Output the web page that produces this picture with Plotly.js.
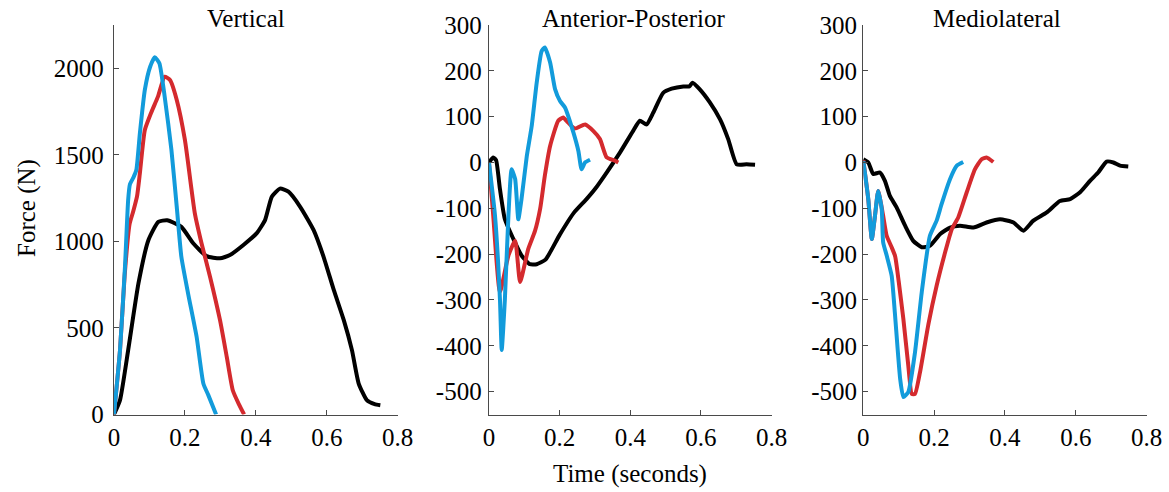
<!DOCTYPE html>
<html>
<head>
<meta charset="utf-8">
<script src="https://cdn.plot.ly/plotly-3.0.1.min.js"></script>
<style>html,body{margin:0;padding:0;background:#fff}#chart{width:1169px;height:492px}</style>
</head>
<body>
<div id="chart"></div>
<script>
// ---------- DATA ----------
var panelTitles = ["Vertical", "Anterior-Posterior", "Mediolateral"];
var xTickVals = [0, 0.2, 0.4, 0.6, 0.8];
var xTickText = ["0", "0.2", "0.4", "0.6", "0.8"];
var vTickVals = [0, 500, 1000, 1500, 2000];
var vTickText = ["0", "500", "1000", "1500", "2000"];
var hTickVals = [-500, -400, -300, -200, -100, 0, 100, 200, 300];
var hTickText = ["-500", "-400", "-300", "-200", "-100", "0", "100", "200", "300"];

// Vertical
var vertBlackT = [0, 0.017, 0.04, 0.069, 0.097, 0.125, 0.15, 0.19, 0.224, 0.261, 0.299, 0.327, 0.365, 0.402, 0.426, 0.445, 0.468, 0.492, 0.525, 0.563, 0.591, 0.62, 0.648, 0.671, 0.69, 0.713, 0.735, 0.751];
var vertBlackF = [0, 83, 372, 757, 1007, 1113, 1122, 1084, 988, 915, 902, 921, 979, 1046, 1123, 1258, 1305, 1287, 1200, 1065, 911, 718, 545, 372, 179, 83, 60, 54];
var vertRedT = [0, 0.017, 0.03, 0.044, 0.054, 0.065, 0.073, 0.087, 0.106, 0.124, 0.143, 0.158, 0.177, 0.2, 0.228, 0.247, 0.271, 0.299, 0.318, 0.335, 0.352, 0.367];
var vertRedF = [0, 372, 800, 1100, 1171, 1260, 1393, 1643, 1749, 1836, 1951, 1932, 1817, 1586, 1162, 988, 795, 545, 333, 140, 60, 0];
var vertBlueT = [0, 0.017, 0.031, 0.04, 0.045, 0.055, 0.063, 0.073, 0.087, 0.102, 0.115, 0.128, 0.143, 0.162, 0.177, 0.19, 0.209, 0.233, 0.252, 0.266, 0.288];
var vertBlueF = [0, 372, 853, 1240, 1330, 1370, 1412, 1624, 1875, 2009, 2064, 2029, 1836, 1528, 1200, 911, 699, 449, 179, 112, 0];

// Anterior-Posterior
var apBlackT = [0, 0.012, 0.02, 0.031, 0.045, 0.069, 0.092, 0.116, 0.135, 0.16, 0.2, 0.24, 0.276, 0.3, 0.333, 0.371, 0.408, 0.427, 0.446, 0.465, 0.493, 0.517, 0.55, 0.567, 0.576, 0.596, 0.625, 0.654, 0.677, 0.701, 0.729, 0.753];
var apBlackF = [0, 11, 5, -58, -124, -167, -203, -222, -222, -212, -158, -110, -80, -58, -22, 22, 69, 91, 83, 109, 152, 161, 166, 166, 174, 160, 131, 94, 51, -4, -4, -5];
var apRedT = [0, 0.012, 0.031, 0.055, 0.074, 0.088, 0.111, 0.13, 0.145, 0.158, 0.173, 0.196, 0.21, 0.224, 0.243, 0.272, 0.295, 0.314, 0.333, 0.356, 0.366];
var apRedF = [0, -116, -283, -203, -171, -261, -189, -150, -100, -29, 36, 91, 98, 87, 74, 83, 69, 51, 11, 4, 0];
var apBlueT = [0, 0.017, 0.031, 0.036, 0.045, 0.055, 0.064, 0.074, 0.083, 0.092, 0.107, 0.121, 0.135, 0.149, 0.158, 0.173, 0.187, 0.201, 0.215, 0.239, 0.253, 0.262, 0.272, 0.286];
var apBlueF = [0, -116, -298, -409, -298, -116, -15, -36, -124, -80, 14, 80, 174, 243, 251, 218, 160, 134, 120, 65, 25, -15, 0, 6];

// Mediolateral
var mlBlackT = [0, 0.014, 0.028, 0.047, 0.061, 0.075, 0.094, 0.118, 0.141, 0.165, 0.188, 0.217, 0.245, 0.273, 0.311, 0.348, 0.386, 0.424, 0.452, 0.48, 0.518, 0.555, 0.584, 0.612, 0.64, 0.663, 0.687, 0.706, 0.725, 0.748];
var mlBlackF = [7, 0, -25, -22, -40, -73, -98, -138, -171, -185, -182, -156, -142, -138, -142, -131, -124, -131, -149, -127, -109, -84, -80, -65, -40, -22, 2, 0, -7, -9];
var mlRedT = [0, 0.014, 0.024, 0.033, 0.042, 0.05, 0.056, 0.066, 0.08, 0.09, 0.1, 0.113, 0.127, 0.137, 0.146, 0.16, 0.184, 0.207, 0.231, 0.25, 0.268, 0.292, 0.315, 0.334, 0.348, 0.367];
var mlRedF = [5, -80, -167, -116, -62, -90, -116, -160, -185, -205, -260, -341, -443, -505, -505, -458, -352, -269, -196, -145, -120, -65, -15, 7, 11, 1];
var mlBlueT = [0, 0.014, 0.024, 0.033, 0.042, 0.052, 0.056, 0.066, 0.08, 0.089, 0.104, 0.113, 0.127, 0.146, 0.165, 0.188, 0.207, 0.221, 0.245, 0.264, 0.282];
var mlBlueF = [3, -80, -167, -116, -62, -102, -174, -203, -247, -327, -472, -512, -501, -414, -283, -160, -127, -91, -36, -7, 1];

// ---------- STYLE ----------
var FONT = "Liberation Serif, Times New Roman, serif";
var FS = 25;
var BLACK = "#000000", RED = "#d42a2e", BLUE = "#129bdb";
var LW = 4;

function tr(x, y, color, xa, ya) {
  return {x: x, y: y, type: "scatter", mode: "lines", xaxis: xa, yaxis: ya,
          line: {color: color, width: LW, shape: "spline", smoothing: 0.5},
          hoverinfo: "skip", showlegend: false};
}

var data = [
  tr(vertBlackT, vertBlackF, BLACK, "x", "y"),
  tr(vertRedT, vertRedF, RED, "x", "y"),
  tr(vertBlueT, vertBlueF, BLUE, "x", "y"),
  tr(apBlackT, apBlackF, BLACK, "x2", "y2"),
  tr(apRedT, apRedF, RED, "x2", "y2"),
  tr(apBlueT, apBlueF, BLUE, "x2", "y2"),
  tr(mlBlackT, mlBlackF, BLACK, "x3", "y3"),
  tr(mlRedT, mlRedF, RED, "x3", "y3"),
  tr(mlBlueT, mlBlueF, BLUE, "x3", "y3")
];

function axBase() {
  return {showline: true, linecolor: "#4a4a4a", linewidth: 1.3, ticks: "inside", ticklen: 5,
          tickcolor: "#4a4a4a", tickwidth: 1, showgrid: false, zeroline: false, fixedrange: true,
          tickfont: {family: FONT, size: FS, color: "#000"}, mirror: false};
}
function xAx(dom, anchor) {
  var a = axBase(); a.domain = dom; a.anchor = anchor; a.range = [0, 0.8];
  a.tickmode = "array"; a.tickvals = xTickVals; a.ticktext = xTickText; return a;
}
function yAx(dom, anchor, range, vals, text, standoff) {
  var a = axBase(); a.domain = dom; a.anchor = anchor; a.range = range;
  a.tickmode = "array"; a.tickvals = vals; a.ticktext = text;
  a.ticklabelstandoff = standoff; return a;
}
var yDom = [0.1575, 0.9492];

function ann(text, px, py, angle) {
  return {text: text, x: px / 1169, y: 1 - py / 492, xref: "paper", yref: "paper", showarrow: false,
          textangle: angle || 0, xanchor: "center", yanchor: "middle",
          font: {family: FONT, size: FS, color: "#000"}};
}

var layout = {
  width: 1169, height: 492,
  margin: {l: 0, r: 0, t: 0, b: 0},
  paper_bgcolor: "#fff", plot_bgcolor: "#fff",
  showlegend: false,
  xaxis: xAx([0.0975, 0.3402], "y"),
  yaxis: yAx(yDom, "x", [0, 2250], vTickVals, vTickText, 4),
  xaxis2: xAx([0.4183, 0.6601], "y2"),
  yaxis2: yAx(yDom, "x2", [-550, 300], hTickVals, hTickText, 1),
  xaxis3: xAx([0.7385, 0.9809], "y3"),
  yaxis3: yAx(yDom, "x3", [-550, 300], hTickVals, hTickText, 0),
  annotations: [
    ann(panelTitles[0], 246, 18),
    ann(panelTitles[1], 633, 18),
    ann(panelTitles[2], 997, 18),
    ann("Force (N)", 27, 208, -90),
    ann("Time (seconds)", 630, 474)
  ]
};

Plotly.newPlot("chart", data, layout, {staticPlot: true, displayModeBar: false});
</script>
</body>
</html>
